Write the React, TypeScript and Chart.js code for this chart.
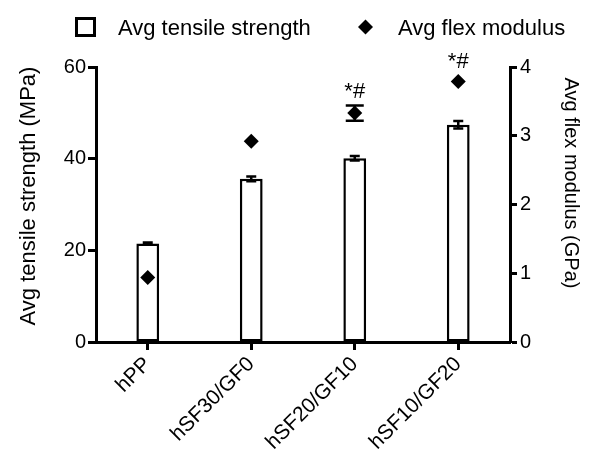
import React, { useEffect, useRef } from 'react';
import { Chart, registerables } from 'chart.js';

Chart.register(...registerables);

const categories = ['hPP', 'hSF30/GF0', 'hSF20/GF10', 'hSF10/GF20'];
const tensileMean = [21.5, 35.6, 40.1, 47.4];
const tensileSD = [0.2, 0.5, 0.5, 0.8];
const flexMean = [0.94, 2.92, 3.33, 3.79];
const flexSD = [0, 0, 0.11, 0];
const flexMarks = ['', '', '*#', '*#'];
const seriesLabels = ['Avg tensile strength', 'Avg flex modulus'];
const axisTitles = ['Avg tensile strength (MPa)', 'Avg flex modulus (GPa)'];

const FONT = "'Liberation Sans', Arial, Helvetica, sans-serif";
const INK = '#000';

const errorBarsPlugin = {
  id: 'errorBars',
  afterDatasetsDraw(chart: any) {
    const ctx = chart.ctx;
    const xs = chart.scales.x;
    const ys = chart.scales.y;
    const y1 = chart.scales.y1;
    ctx.save();
    ctx.strokeStyle = INK;
    ctx.lineWidth = 2.5;
    const draw = (xc: number, lo: number, hi: number, cap: number) => {
      ctx.beginPath();
      ctx.moveTo(xc, lo);
      ctx.lineTo(xc, hi);
      ctx.moveTo(xc - cap, lo);
      ctx.lineTo(xc + cap, lo);
      ctx.moveTo(xc - cap, hi);
      ctx.lineTo(xc + cap, hi);
      ctx.stroke();
    };
    categories.forEach((_, i) => {
      const xc = xs.getPixelForValue(i);
      if (tensileSD[i] > 0) {
        draw(xc, ys.getPixelForValue(tensileMean[i] - tensileSD[i]), ys.getPixelForValue(tensileMean[i] + tensileSD[i]), 5);
      }
      if (flexSD[i] > 0) {
        draw(xc, y1.getPixelForValue(flexMean[i] - flexSD[i]), y1.getPixelForValue(flexMean[i] + flexSD[i]), 9);
      }
    });
    ctx.fillStyle = INK;
    ctx.font = `22px ${FONT}`;
    ctx.textAlign = 'center';
    ctx.textBaseline = 'alphabetic';
    categories.forEach((_, i) => {
      if (!flexMarks[i]) return;
      const xc = xs.getPixelForValue(i);
      const top = Math.min(y1.getPixelForValue(flexMean[i] + flexSD[i]) - 1.5, y1.getPixelForValue(flexMean[i]) - 7.5);
      ctx.fillText(flexMarks[i], xc, top - 6);
    });
    ctx.restore();
  },
};

const decorPlugin = {
  id: 'decor',
  afterDraw(chart: any) {
    const ctx = chart.ctx;
    const ds = chart.data.datasets;
    ctx.save();
    ctx.fillStyle = INK;
    ctx.strokeStyle = INK;
    // legend
    ctx.font = `22px ${FONT}`;
    ctx.textAlign = 'left';
    ctx.textBaseline = 'alphabetic';
    ctx.lineWidth = 3;
    ctx.beginPath();
    ctx.rect(76.5, 18.5, 18, 17);
    ctx.stroke();
    ctx.fillText(ds[0].label, 118, 35);
    const cx = 365.5, cy = 27, r = 7.5;
    ctx.beginPath();
    ctx.moveTo(cx, cy - r);
    ctx.lineTo(cx + r, cy);
    ctx.lineTo(cx, cy + r);
    ctx.lineTo(cx - r, cy);
    ctx.closePath();
    ctx.fill();
    ctx.fillText(ds[1].label, 398, 35);
    // axis titles
    ctx.textAlign = 'center';
    ctx.textBaseline = 'middle';
    ctx.font = `22px ${FONT}`;
    ctx.save();
    ctx.translate(29, 196);
    ctx.rotate(-Math.PI / 2);
    ctx.fillText(axisTitles[0], 0, 0);
    ctx.restore();
    ctx.font = `20px ${FONT}`;
    ctx.save();
    ctx.translate(571, 183);
    ctx.rotate(Math.PI / 2);
    ctx.fillText(axisTitles[1], 0, 0);
    ctx.restore();
    ctx.restore();
  },
};

export default function App() {
  const ref = useRef<HTMLCanvasElement | null>(null);
  useEffect(() => {
    if (!ref.current) return;
    const chart = new Chart(ref.current, {
      type: 'bar',
      data: {
        labels: categories,
        datasets: [
          {
            type: 'bar',
            label: seriesLabels[0],
            data: tensileMean,
            yAxisID: 'y',
            backgroundColor: '#fff',
            borderColor: INK,
            borderWidth: 2.5,
            borderSkipped: false,
            barPercentage: 0.22,
            categoryPercentage: 1,
            order: 2,
          },
          {
            type: 'line',
            label: seriesLabels[1],
            data: flexMean,
            yAxisID: 'y1',
            showLine: false,
            pointStyle: 'rectRot',
            pointRadius: 7.5,
            pointBackgroundColor: INK,
            pointBorderColor: INK,
            pointBorderWidth: 0,
            order: 1,
          },
        ] as any,
      },
      options: {
        responsive: false,
        animation: false,
        layout: { padding: { top: 67, left: 0, right: 0, bottom: 0 } },
        plugins: {
          legend: { display: false },
          tooltip: { enabled: false },
        },
        scales: {
          x: {
            offset: true,
            grid: { display: true, offset: false, drawOnChartArea: false, drawTicks: true, tickLength: 8, tickWidth: 3, color: INK },
            border: { display: true, width: 3, color: INK },
            ticks: { color: INK, font: { family: FONT, size: 21 }, maxRotation: 45, minRotation: 45, autoSkip: false, padding: 2 },
            afterFit: (s: any) => { s.height = 109; },
          },
          y: {
            position: 'left',
            min: 0,
            max: 60,
            grid: { display: true, drawOnChartArea: false, drawTicks: true, tickLength: 8, tickWidth: 3, color: INK },
            border: { display: true, width: 3, color: INK },
            ticks: { stepSize: 20, color: INK, font: { family: FONT, size: 20 }, padding: 2 },
            afterFit: (s: any) => { s.width = 96; },
          },
          y1: {
            position: 'right',
            min: 0,
            max: 4,
            grid: { display: true, drawOnChartArea: false, drawTicks: true, tickLength: 7, tickWidth: 3, color: INK },
            border: { display: true, width: 3, color: INK },
            ticks: { stepSize: 1, color: INK, font: { family: FONT, size: 20 }, padding: 3 },
            afterFit: (s: any) => { s.width = 82; },
          },
        },
      } as any,
      plugins: [errorBarsPlugin, decorPlugin],
    });
    return () => chart.destroy();
  }, []);
  return (
    <div style={{ position: 'absolute', left: 0, top: 0, width: 592, height: 451, background: '#fff' }}>
      <canvas ref={ref} width={592} height={451} style={{ display: 'block' }} />
    </div>
  );
}
